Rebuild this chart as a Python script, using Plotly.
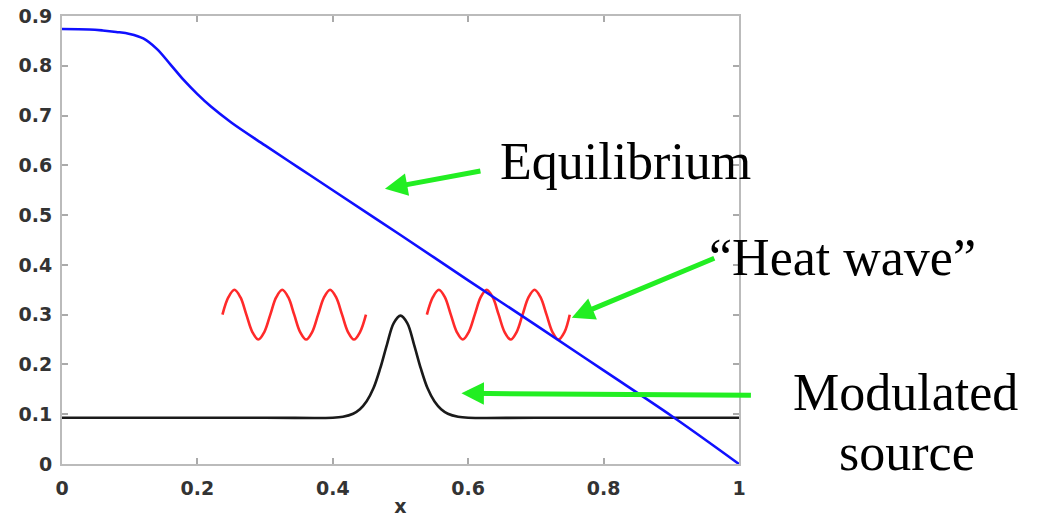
import plotly.graph_objects as go

# ---- data ----
eq_x = [0.0, 0.04, 0.06, 0.08, 0.10, 0.12, 0.14, 0.16, 0.18, 0.20, 0.22, 0.25, 0.30, 0.35, 0.40,
        0.50, 0.60, 0.70, 0.80, 0.90, 1.0]
eq_y = [0.874, 0.873, 0.871, 0.868, 0.864, 0.855, 0.834, 0.803, 0.771, 0.743, 0.718, 0.686, 0.640,
        0.595, 0.550, 0.460, 0.369, 0.279, 0.188, 0.097, 0.0]

src_x = [0.0, 0.30, 0.40, 0.415, 0.43, 0.44, 0.45, 0.46, 0.47, 0.48, 0.49, 0.50,
         0.51, 0.52, 0.53, 0.54, 0.55, 0.56, 0.57, 0.585, 0.60, 0.70, 1.0]
src_y = [0.093, 0.093, 0.093, 0.095, 0.101, 0.110, 0.126, 0.152, 0.192, 0.240, 0.283, 0.298,
         0.283, 0.240, 0.192, 0.152, 0.126, 0.110, 0.101, 0.095, 0.093, 0.093, 0.093]

wave1_x = [0.237, 0.2458, 0.2547, 0.2635, 0.2723, 0.2812, 0.2900, 0.2988, 0.3077, 0.3165,
           0.3253, 0.3342, 0.3430, 0.3518, 0.3607, 0.3695, 0.3783, 0.3872, 0.3960, 0.4048,
           0.4137, 0.4225, 0.4313, 0.4402, 0.449]
wave2_x = [0.539, 0.5478, 0.5567, 0.5655, 0.5743, 0.5832, 0.5920, 0.6008, 0.6097, 0.6185,
           0.6273, 0.6362, 0.6450, 0.6538, 0.6627, 0.6715, 0.6803, 0.6892, 0.6980, 0.7068,
           0.7157, 0.7245, 0.7333, 0.7422, 0.750]
wave_y = [0.300, 0.335, 0.350, 0.335, 0.300, 0.265, 0.250, 0.265,
          0.300, 0.335, 0.350, 0.335, 0.300, 0.265, 0.250, 0.265,
          0.300, 0.335, 0.350, 0.335, 0.300, 0.265, 0.250, 0.265, 0.300]

x_ticks = [0, 0.2, 0.4, 0.6, 0.8, 1]
x_tick_labels = ["0", "0.2", "0.4", "0.6", "0.8", "1"]
y_ticks = [0, 0.1, 0.2, 0.3, 0.4, 0.5, 0.6, 0.7, 0.8, 0.9]
y_tick_labels = ["0", "0.1", "0.2", "0.3", "0.4", "0.5", "0.6", "0.7", "0.8", "0.9"]

# ---- layout geometry (pixels) ----
W, H = 1043, 517
L, R, T, B = 62, 304, 16, 53
PW, PH = W - L - R, H - T - B


def px(xp):
    return (xp - L) / PW


def py(yp):
    return (H - B - yp) / PH


fig = go.Figure()
fig.add_trace(go.Scatter(x=src_x, y=src_y, mode="lines", line=dict(color="#1a1a1a", width=2.6, shape="spline", smoothing=1.0), hoverinfo="skip"))
fig.add_trace(go.Scatter(x=wave1_x, y=wave_y, mode="lines", line=dict(color="#ff2a2a", width=2.6, shape="spline"), hoverinfo="skip"))
fig.add_trace(go.Scatter(x=wave2_x, y=wave_y, mode="lines", line=dict(color="#ff2a2a", width=2.6, shape="spline"), hoverinfo="skip"))
fig.add_trace(go.Scatter(x=eq_x, y=eq_y, mode="lines", line=dict(color="#1010ff", width=2.6, shape="spline", smoothing=1.0), hoverinfo="skip"))

tickfont = dict(family="DejaVu Sans", size=19, color="#333333", weight="bold")
axis_common = dict(showgrid=False, zeroline=False, showline=True, linecolor="#bbbbbb", linewidth=2,
                   mirror="ticks", ticks="inside", ticklen=6, tickcolor="#aaaaaa", tickwidth=1.5,
                   tickfont=tickfont, automargin=False)

fig.update_layout(
    width=W, height=H,
    margin=dict(l=L, r=R, t=T, b=B, pad=0),
    paper_bgcolor="white", plot_bgcolor="white",
    showlegend=False,
    xaxis=dict(range=[0, 1], tickvals=x_ticks, ticktext=x_tick_labels, ticklabelstandoff=6,
               title=dict(text="x", font=tickfont, standoff=2), **axis_common),
    yaxis=dict(range=[0, 0.9], tickvals=y_ticks, ticktext=y_tick_labels, ticklabelstandoff=4,
               **axis_common),
)

green = "#22ee22"
arrows = [
    # tip x, tip y (data), tail offset (pixels)
    (0.477, 0.553, 97, -18),
    (0.753, 0.294, 144, -60),
    (0.590, 0.142, 291, 2),
]
for tx, ty, ax, ay in arrows:
    fig.add_annotation(x=tx, y=ty, xref="x", yref="y", text="", showarrow=True,
                       ax=ax, ay=ay, axref="pixel", ayref="pixel",
                       arrowcolor=green, arrowwidth=5, arrowhead=2, arrowsize=0.9)

serif = dict(family="Liberation Serif", size=52, color="black")
labels = [
    ("Equilibrium", 625, 162),
    ("\u201cHeat wave\u201d", 842, 257),
    ("Modulated", 905, 392),
    ("source", 907, 452),
]
for txt, xp, yp in labels:
    fig.add_annotation(x=px(xp), y=py(yp), xref="paper", yref="paper", text=txt, showarrow=False,
                       xanchor="center", yanchor="middle", font=serif)

fig.write_html("out.html")
